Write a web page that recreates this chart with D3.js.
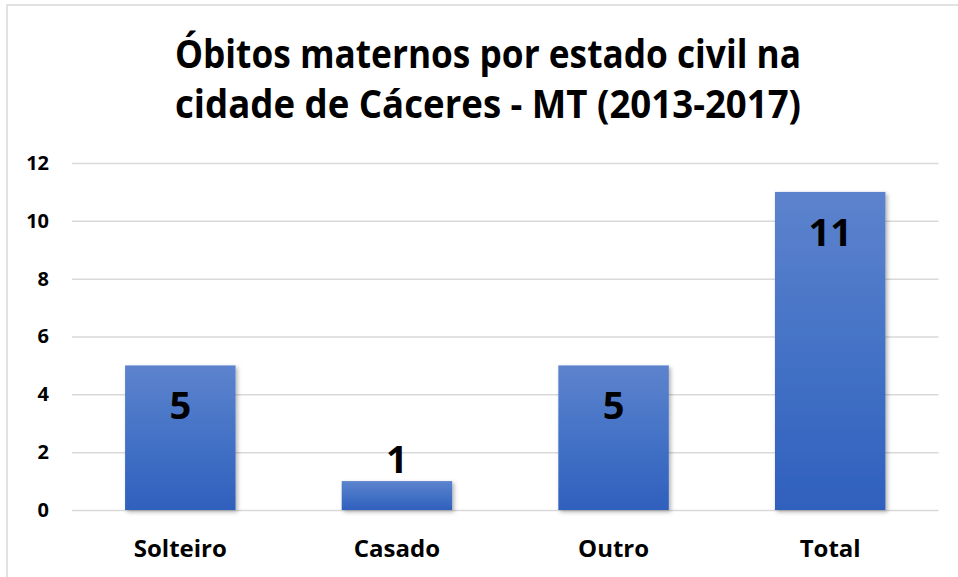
<!DOCTYPE html>
<html>
<head>
<meta charset="UTF-8" />
<title>Óbitos maternos por estado civil</title>
<script src="https://cdn.jsdelivr.net/npm/d3@7"></script>
<style>
    body { margin: 0; background: #fff; }
    svg { display: block; font-family: "Open Sans", sans-serif; font-weight: bold; }
    .tick line { stroke: #d9d9d9; stroke-width: 1.5; }
</style>
</head>
<body>
<div id="chart"></div>
<script>
    const categories = ['Solteiro', 'Casado', 'Outro', 'Total'];
    const values = [5, 1, 5, 11];
    const yTicks = [0, 2, 4, 6, 8, 10, 12];
    const titleLines = ['Óbitos maternos por estado civil na', 'cidade de Cáceres - MT (2013-2017)'];

    const w = 958;
    const h = 577;
    const plotLeft = 72, plotRight = 938.5, plotTop = 163, plotBottom = 510;

    const svg = d3.select('#chart')
        .append('svg')
        .attr('width', w)
        .attr('height', h);

    const defs = svg.append('defs');
    const grad = defs.append('linearGradient')
        .attr('id', 'barGrad')
        .attr('x1', 0).attr('y1', 0).attr('x2', 0).attr('y2', 1);
    grad.append('stop').attr('offset', '0%').attr('stop-color', '#5d83cd');
    grad.append('stop').attr('offset', '50%').attr('stop-color', '#4472c6');
    grad.append('stop').attr('offset', '100%').attr('stop-color', '#2f60bd');

    const shadow = defs.append('filter')
        .attr('id', 'shadow')
        .attr('x', '-10%').attr('y', '-10%')
        .attr('width', '130%').attr('height', '130%');
    shadow.append('feDropShadow')
        .attr('dx', 2).attr('dy', 2)
        .attr('stdDeviation', 2)
        .attr('flood-color', '#000')
        .attr('flood-opacity', 0.3);

    // chart frame
    svg.append('rect')
        .attr('x', 7).attr('y', 5)
        .attr('width', 980).attr('height', 600)
        .attr('fill', 'none')
        .attr('stroke', '#d9d9d9')
        .attr('stroke-width', 1.5);

    const x = d3.scaleBand()
        .domain(categories)
        .range([plotLeft, plotRight])
        .paddingInner(0.49)
        .paddingOuter(0.245);

    const y = d3.scaleLinear()
        .domain([0, 12])
        .range([plotBottom, plotTop]);

    const yAxis = d3.axisLeft(y)
        .tickValues(yTicks)
        .tickSize(-(plotRight - plotLeft))
        .tickPadding(23);

    svg.append('g')
        .attr('transform', 'translate(' + plotLeft + ',0)')
        .call(yAxis)
        .call(g => g.select('.domain').remove())
        .call(g => g.selectAll('text')
            .attr('fill', '#000')
            .style('font-size', '20px')
            .style('font-family', '"Open Sans", sans-serif')
            .style('font-weight', 'bold'));

    svg.append('g')
        .selectAll('rect')
        .data(values)
        .enter()
        .append('rect')
        .attr('x', (d, i) => x(categories[i]))
        .attr('y', d => y(d))
        .attr('width', x.bandwidth())
        .attr('height', d => plotBottom - y(d))
        .attr('fill', 'url(#barGrad)')
        .attr('filter', 'url(#shadow)');

    svg.append('g')
        .selectAll('text')
        .data(values)
        .enter()
        .append('text')
        .attr('x', (d, i) => x(categories[i]) + x.bandwidth() / 2)
        .attr('y', d => d < 2 ? y(d) - 8 : y(d) + 54)
        .attr('text-anchor', 'middle')
        .attr('fill', '#000')
        .style('font-size', '38px')
        .text(d => d);

    const xAxis = d3.axisBottom(x).tickSize(0).tickPadding(0);
    svg.append('g')
        .attr('transform', 'translate(0,' + plotBottom + ')')
        .call(xAxis)
        .call(g => g.select('.domain').remove())
        .call(g => g.selectAll('text')
            .attr('dy', 0)
            .attr('y', 47)
            .attr('fill', '#000')
            .style('font-size', '24px')
            .style('font-family', '"Open Sans", sans-serif')
            .style('font-weight', 'bold'));

    svg.append('g')
        .selectAll('text')
        .data(titleLines)
        .enter()
        .append('text')
        .attr('x', 488)
        .attr('y', (d, i) => 68 + i * 50)
        .attr('text-anchor', 'middle')
        .attr('fill', '#000')
        .style('font-size', '39px')
        .attr('textLength', 626)
        .attr('lengthAdjust', 'spacingAndGlyphs')
        .text(d => d);
</script>
</body>
</html>
